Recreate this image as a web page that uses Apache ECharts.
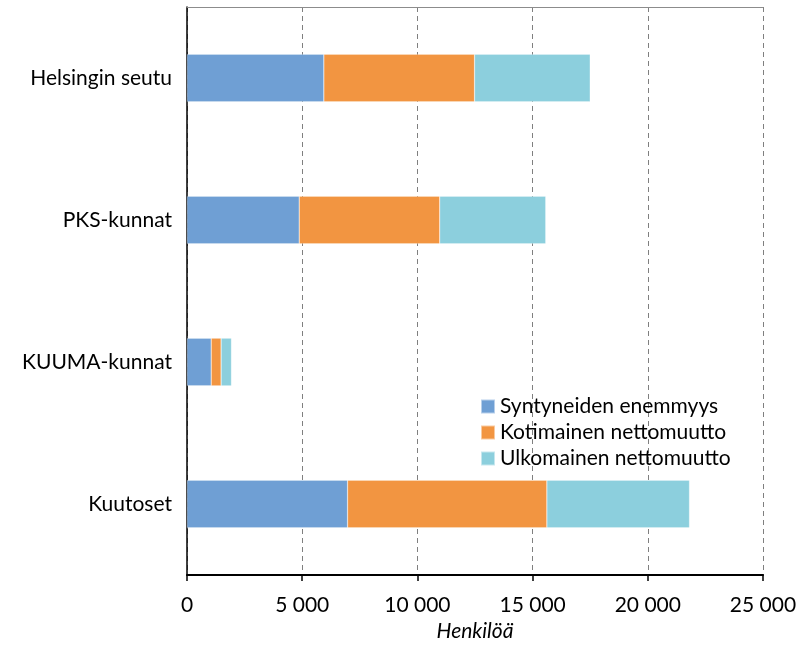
<!DOCTYPE html>
<html>
<head>
<meta charset="utf-8">
<script src="https://cdn.jsdelivr.net/npm/echarts@6/dist/echarts.min.js"></script>
<style>html,body{margin:0;padding:0;background:#fff;overflow:hidden}#c{width:807px;height:647px}</style>
</head>
<body>
<div id="c"></div>
<script>
var categories = ['Helsingin seutu', 'PKS-kunnat', 'KUUMA-kunnat', 'Kuutoset'];
var syntyneet = [5940, 4870, 1050, 6970];
var kotimainen = [6540, 6100, 430, 8650];
var ulkomainen = [5020, 4600, 450, 6190];
var seriesNames = ['Syntyneiden enemmyys', 'Kotimainen nettomuutto', 'Ulkomainen nettomuutto'];
var colors = ['#6F9FD4', '#F29541', '#8CCFDD'];

var FONT = 'Lato';
var FS = 21;
var el = document.getElementById('c');
var chart = echarts.init(el);
function fmt(v){ return String(v).replace(/\B(?=(\d{3})+(?!\d))/g, ' '); }
var dataSets = [syntyneet, kotimainen, ulkomainen];
chart.setOption({
  animation: false,
  textStyle: {fontFamily: FONT},
  grid: {left: 187, right: 44, top: 7, bottom: 69, containLabel: false},
  legend: {
    orient: 'vertical', left: 475, top: 391,
    itemWidth: 14, itemHeight: 14, itemGap: 5,
    icon: 'rect',
    textStyle: {fontFamily: FONT, fontSize: FS, color: '#000'},
    data: seriesNames
  },
  xAxis: [{
    type: 'value', min: 0, max: 25000, interval: 5000,
    axisLine: {show: true, lineStyle: {color: '#000', width: 2}},
    axisTick: {show: true, length: 6, lineStyle: {color: '#000', width: 1.5}},
    axisLabel: {fontFamily: FONT, fontSize: FS, color: '#000', margin: 20, formatter: fmt},
    splitLine: {show: true, lineStyle: {color: '#7f7f7f', type: [5, 4], width: 1}},
    name: 'Henkilöä', nameLocation: 'middle', nameGap: 46,
    nameTextStyle: {fontFamily: FONT, fontSize: FS, fontStyle: 'italic', color: '#000'}
  }, {
    type: 'value', position: 'top', min: 0, max: 25000, interval: 5000,
    axisLine: {show: true, lineStyle: {color: '#8c8c8c', width: 1}},
    axisTick: {show: false}, axisLabel: {show: false}, splitLine: {show: false}
  }],
  yAxis: {
    type: 'category', inverse: true, data: categories,
    axisLine: {show: true, lineStyle: {color: '#000', width: 1.5}},
    axisTick: {show: false},
    axisLabel: {fontFamily: FONT, fontSize: FS, color: '#000', margin: 15}
  },
  series: dataSets.map(function(d, i){
    return {
      name: seriesNames[i], type: 'bar', stack: 'total', data: d,
      barWidth: '33.6%', xAxisIndex: 0,
      itemStyle: {color: colors[i], borderColor: 'rgba(255,255,255,0.5)', borderWidth: 0.5}
    };
  })
});
</script>
</body>
</html>
